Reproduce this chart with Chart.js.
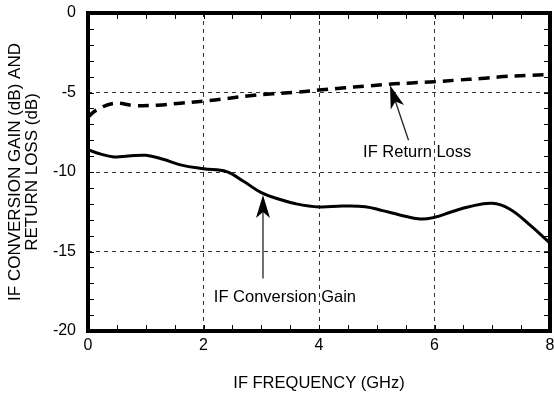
<!DOCTYPE html>
<html>
<head>
<meta charset="utf-8">
<script src="https://cdn.jsdelivr.net/npm/chart.js@4/dist/chart.umd.min.js"></script>
<style>
  html, body { margin: 0; padding: 0; background: #fff; }
  canvas { display: block; }
</style>
</head>
<body>
<canvas id="chart" width="554" height="393"></canvas>
<script>
// IF conversion gain vs. IF frequency
const freqGainGHz = [0, 0.2, 0.45, 0.7, 1.0, 1.3, 1.6, 2.0, 2.4, 2.7, 3.0, 3.3, 3.6, 4.0, 4.4, 4.8, 5.1, 5.4, 5.75, 6.0, 6.3, 6.6, 7.0, 7.3, 7.65, 8.0];
const conversionGainDb = [-8.6, -8.85, -9.05, -9.0, -8.95, -9.2, -9.55, -9.8, -9.98, -10.6, -11.3, -11.7, -12.0, -12.2, -12.14, -12.18, -12.43, -12.7, -12.96, -12.85, -12.5, -12.18, -11.97, -12.33, -13.33, -14.47];

// IF return loss vs. IF frequency
const freqLossGHz = [0, 0.15, 0.45, 0.8, 1.2, 1.6, 2.0, 2.4, 2.8, 3.2, 3.6, 4.0, 4.4, 4.8, 5.2, 5.6, 6.0, 6.4, 6.8, 7.2, 7.6, 8.0];
const returnLossDb = [-6.55, -6.1, -5.68, -5.82, -5.8, -5.67, -5.55, -5.38, -5.2, -5.08, -4.98, -4.85, -4.72, -4.6, -4.48, -4.4, -4.32, -4.22, -4.12, -4.0, -3.93, -3.86];

// Axis tick labels
const xTickValues = [0, 2, 4, 6, 8];
const yTickValues = [0, -5, -10, -15, -20];
const xMinorStep = 0.5;
const yMinorStep = 1;

const FONT = '"Liberation Sans", Arial, Helvetica, sans-serif';

// Callout labels with arrows, in data units (GHz, dB)
const callouts = [
  { text: 'IF Conversion Gain', at: [3.41, -17.86], tip: [3.03, -11.45], tail: [3.03, -16.7] },
  { text: 'IF Return Loss', at: [5.7, -8.8], tip: [5.23, -4.55], tail: [5.55, -8.0] }
];

const toPoints = (xs, ys) => xs.map((x, i) => ({ x, y: ys[i] }));

// Heavy frame, inside minor ticks and arrow callouts
const framePlugin = {
  id: 'frameAndCallouts',
  afterDatasetsDraw(chart) {
    const { ctx, chartArea: a, scales: { x, y } } = chart;
    ctx.save();

    // minor ticks pointing inward from all four edges
    ctx.strokeStyle = '#000';
    ctx.lineWidth = 1;
    ctx.beginPath();
    for (let v = x.min + xMinorStep; v < x.max; v += xMinorStep) {
      const px = Math.round(x.getPixelForValue(v)) + 0.5;
      ctx.moveTo(px, a.bottom); ctx.lineTo(px, a.bottom - 6);
      ctx.moveTo(px, a.top); ctx.lineTo(px, a.top + 6);
    }
    for (let v = y.min + yMinorStep; v < y.max; v += yMinorStep) {
      const py = Math.round(y.getPixelForValue(v)) + 0.5;
      ctx.moveTo(a.left, py); ctx.lineTo(a.left + 6, py);
      ctx.moveTo(a.right, py); ctx.lineTo(a.right - 6, py);
    }
    ctx.stroke();

    // frame
    ctx.lineWidth = 4;
    ctx.strokeRect(a.left, a.top, a.right - a.left, a.bottom - a.top);

    // callouts
    ctx.font = '16.5px ' + FONT;
    ctx.fillStyle = '#000';
    ctx.textAlign = 'center';
    ctx.textBaseline = 'middle';
    callouts.forEach(c => {
      const tx = x.getPixelForValue(c.tip[0]), ty = y.getPixelForValue(c.tip[1]);
      const sx = x.getPixelForValue(c.tail[0]), sy = y.getPixelForValue(c.tail[1]);
      const dx = tx - sx, dy = ty - sy, len = Math.hypot(dx, dy);
      const ux = dx / len, uy = dy / len, nx = -uy, ny = ux;
      const L = 23, W = 7, notch = 17;
      ctx.strokeStyle = '#222';
      ctx.lineWidth = 1.3;
      ctx.beginPath();
      ctx.moveTo(sx, sy);
      ctx.lineTo(tx - ux * notch, ty - uy * notch);
      ctx.stroke();
      ctx.beginPath();
      ctx.moveTo(tx, ty);
      ctx.lineTo(tx - ux * L + nx * W, ty - uy * L + ny * W);
      ctx.lineTo(tx - ux * notch, ty - uy * notch);
      ctx.lineTo(tx - ux * L - nx * W, ty - uy * L - ny * W);
      ctx.closePath();
      ctx.fill();
      ctx.fillText(c.text, x.getPixelForValue(c.at[0]), y.getPixelForValue(c.at[1]));
    });
    ctx.restore();
  }
};

new Chart(document.getElementById('chart'), {
  type: 'line',
  data: {
    datasets: [
      {
        label: 'IF Conversion Gain',
        data: toPoints(freqGainGHz, conversionGainDb),
        borderColor: '#000',
        borderWidth: 3,
        pointRadius: 0,
        tension: 0.4,
        fill: false
      },
      {
        label: 'IF Return Loss',
        data: toPoints(freqLossGHz, returnLossDb),
        borderColor: '#000',
        borderWidth: 3.5,
        borderDash: [11, 7],
        pointRadius: 0,
        tension: 0.4,
        fill: false
      }
    ]
  },
  options: {
    responsive: false,
    animation: false,
    devicePixelRatio: 1,
    layout: { padding: { left: 0, right: 4, top: 13, bottom: 0 } },
    plugins: { legend: { display: false }, tooltip: { enabled: false } },
    scales: {
      x: {
        type: 'linear',
        min: 0,
        max: 8,
        afterBuildTicks(scale) { scale.ticks = xTickValues.map(v => ({ value: v })); },
        afterFit(scale) { scale.height = 62; scale.paddingLeft = 0; scale.paddingRight = 0; },
        ticks: { color: '#000', font: { family: FONT, size: 16 }, padding: 5, maxRotation: 0 },
        grid: { color: '#333', lineWidth: 1, drawTicks: false },
        border: { display: false, dash: [4, 4] },
        title: {
          display: true,
          text: 'IF FREQUENCY (GHz)',
          color: '#000',
          font: { family: FONT, size: 16.5, lineHeight: 1.2 },
          padding: { top: 0, bottom: 0 }
        }
      },
      y: {
        type: 'linear',
        min: -20,
        max: 0,
        afterBuildTicks(scale) { scale.ticks = yTickValues.map(v => ({ value: v })); },
        afterFit(scale) { scale.width = 88; scale.paddingTop = 0; scale.paddingBottom = 0; },
        ticks: { color: '#000', font: { family: FONT, size: 16 }, padding: 12 },
        grid: { color: '#333', lineWidth: 1, drawTicks: false },
        border: { display: false, dash: [4, 4] },
        title: {
          display: true,
          text: ['IF CONVERSION GAIN (dB) AND', 'RETURN LOSS (dB)'],
          color: '#000',
          font: { family: FONT, size: 17, lineHeight: 1.0 },
          padding: { top: 6.5, bottom: 0 }
        }
      }
    }
  },
  plugins: [framePlugin]
});
</script>
</body>
</html>
